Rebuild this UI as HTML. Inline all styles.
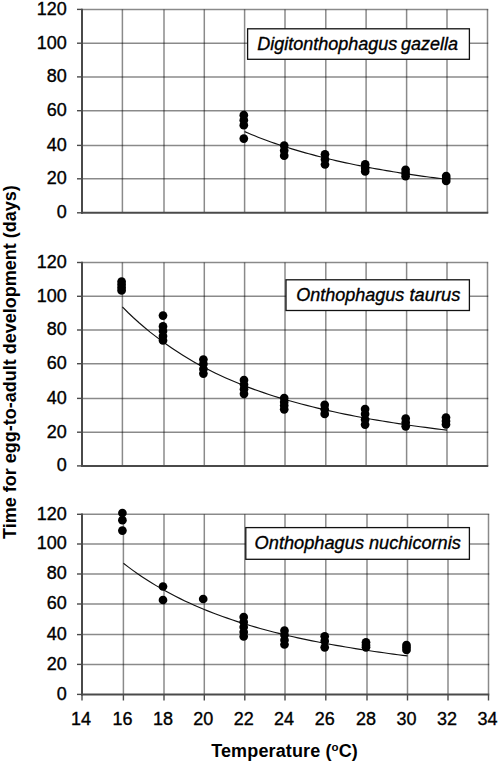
<!DOCTYPE html>
<html><head><meta charset="utf-8"><style>
html,body{margin:0;padding:0;background:#fff;}
svg{display:block;}
.t{font-family:"Liberation Sans",sans-serif;font-size:18px;fill:#000;stroke:#000;stroke-width:0.35px;}
.it{font-family:"Liberation Sans",sans-serif;font-size:18px;font-style:italic;fill:#000;stroke:#000;stroke-width:0.35px;}
.b{font-family:"Liberation Sans",sans-serif;font-size:18px;font-weight:bold;fill:#000;}
</style></head><body>
<svg width="500" height="764" viewBox="0 0 500 764">
<rect width="500" height="764" fill="#fff"/>
<line x1="122.40" y1="9.40" x2="122.40" y2="212.80" stroke="#000" stroke-width="1.5" stroke-opacity="0.46"/>
<line x1="164.00" y1="9.40" x2="164.00" y2="212.80" stroke="#000" stroke-width="1.5" stroke-opacity="0.46"/>
<line x1="204.30" y1="9.40" x2="204.30" y2="212.80" stroke="#000" stroke-width="1.5" stroke-opacity="0.46"/>
<line x1="244.60" y1="9.40" x2="244.60" y2="212.80" stroke="#000" stroke-width="1.5" stroke-opacity="0.46"/>
<line x1="285.00" y1="9.40" x2="285.00" y2="212.80" stroke="#000" stroke-width="1.5" stroke-opacity="0.46"/>
<line x1="325.80" y1="9.40" x2="325.80" y2="212.80" stroke="#000" stroke-width="1.5" stroke-opacity="0.46"/>
<line x1="366.10" y1="9.40" x2="366.10" y2="212.80" stroke="#000" stroke-width="1.5" stroke-opacity="0.46"/>
<line x1="406.60" y1="9.40" x2="406.60" y2="212.80" stroke="#000" stroke-width="1.5" stroke-opacity="0.46"/>
<line x1="447.00" y1="9.40" x2="447.00" y2="212.80" stroke="#000" stroke-width="1.5" stroke-opacity="0.46"/>
<line x1="487.50" y1="9.40" x2="487.50" y2="212.80" stroke="#000" stroke-width="1.5" stroke-opacity="0.46"/>
<line x1="82.00" y1="9.40" x2="488.25" y2="9.40" stroke="#000" stroke-width="1.5" stroke-opacity="0.46"/>
<line x1="82.00" y1="43.20" x2="488.25" y2="43.20" stroke="#000" stroke-width="1.5" stroke-opacity="0.46"/>
<line x1="82.00" y1="76.90" x2="488.25" y2="76.90" stroke="#000" stroke-width="1.5" stroke-opacity="0.46"/>
<line x1="82.00" y1="110.70" x2="488.25" y2="110.70" stroke="#000" stroke-width="1.5" stroke-opacity="0.46"/>
<line x1="82.00" y1="145.40" x2="488.25" y2="145.40" stroke="#000" stroke-width="1.5" stroke-opacity="0.46"/>
<line x1="82.00" y1="178.80" x2="488.25" y2="178.80" stroke="#000" stroke-width="1.5" stroke-opacity="0.46"/>
<line x1="77.00" y1="9.40" x2="82.00" y2="9.40" stroke="#4a4a4a" stroke-width="1.4"/>
<line x1="77.00" y1="43.20" x2="82.00" y2="43.20" stroke="#4a4a4a" stroke-width="1.4"/>
<line x1="77.00" y1="76.90" x2="82.00" y2="76.90" stroke="#4a4a4a" stroke-width="1.4"/>
<line x1="77.00" y1="110.70" x2="82.00" y2="110.70" stroke="#4a4a4a" stroke-width="1.4"/>
<line x1="77.00" y1="145.40" x2="82.00" y2="145.40" stroke="#4a4a4a" stroke-width="1.4"/>
<line x1="77.00" y1="178.80" x2="82.00" y2="178.80" stroke="#4a4a4a" stroke-width="1.4"/>
<line x1="77.00" y1="212.80" x2="82.00" y2="212.80" stroke="#4a4a4a" stroke-width="1.4"/>
<line x1="82.00" y1="8.70" x2="82.00" y2="213.80" stroke="#4a4a4a" stroke-width="2"/>
<line x1="81.00" y1="212.80" x2="488.25" y2="212.80" stroke="#4a4a4a" stroke-width="2"/>
<text x="66.8" y="14.80" text-anchor="end" class="t">120</text>
<text x="66.8" y="48.60" text-anchor="end" class="t">100</text>
<text x="66.8" y="82.30" text-anchor="end" class="t">80</text>
<text x="66.8" y="116.10" text-anchor="end" class="t">60</text>
<text x="66.8" y="150.80" text-anchor="end" class="t">40</text>
<text x="66.8" y="184.20" text-anchor="end" class="t">20</text>
<text x="66.8" y="218.20" text-anchor="end" class="t">0</text>
<line x1="122.40" y1="262.50" x2="122.40" y2="465.90" stroke="#000" stroke-width="1.5" stroke-opacity="0.46"/>
<line x1="164.00" y1="262.50" x2="164.00" y2="465.90" stroke="#000" stroke-width="1.5" stroke-opacity="0.46"/>
<line x1="204.30" y1="262.50" x2="204.30" y2="465.90" stroke="#000" stroke-width="1.5" stroke-opacity="0.46"/>
<line x1="244.60" y1="262.50" x2="244.60" y2="465.90" stroke="#000" stroke-width="1.5" stroke-opacity="0.46"/>
<line x1="285.00" y1="262.50" x2="285.00" y2="465.90" stroke="#000" stroke-width="1.5" stroke-opacity="0.46"/>
<line x1="325.80" y1="262.50" x2="325.80" y2="465.90" stroke="#000" stroke-width="1.5" stroke-opacity="0.46"/>
<line x1="366.10" y1="262.50" x2="366.10" y2="465.90" stroke="#000" stroke-width="1.5" stroke-opacity="0.46"/>
<line x1="406.60" y1="262.50" x2="406.60" y2="465.90" stroke="#000" stroke-width="1.5" stroke-opacity="0.46"/>
<line x1="447.00" y1="262.50" x2="447.00" y2="465.90" stroke="#000" stroke-width="1.5" stroke-opacity="0.46"/>
<line x1="487.50" y1="262.50" x2="487.50" y2="465.90" stroke="#000" stroke-width="1.5" stroke-opacity="0.46"/>
<line x1="82.00" y1="262.50" x2="488.25" y2="262.50" stroke="#000" stroke-width="1.5" stroke-opacity="0.46"/>
<line x1="82.00" y1="296.30" x2="488.25" y2="296.30" stroke="#000" stroke-width="1.5" stroke-opacity="0.46"/>
<line x1="82.00" y1="330.00" x2="488.25" y2="330.00" stroke="#000" stroke-width="1.5" stroke-opacity="0.46"/>
<line x1="82.00" y1="363.70" x2="488.25" y2="363.70" stroke="#000" stroke-width="1.5" stroke-opacity="0.46"/>
<line x1="82.00" y1="398.40" x2="488.25" y2="398.40" stroke="#000" stroke-width="1.5" stroke-opacity="0.46"/>
<line x1="82.00" y1="432.20" x2="488.25" y2="432.20" stroke="#000" stroke-width="1.5" stroke-opacity="0.46"/>
<line x1="77.00" y1="262.50" x2="82.00" y2="262.50" stroke="#4a4a4a" stroke-width="1.4"/>
<line x1="77.00" y1="296.30" x2="82.00" y2="296.30" stroke="#4a4a4a" stroke-width="1.4"/>
<line x1="77.00" y1="330.00" x2="82.00" y2="330.00" stroke="#4a4a4a" stroke-width="1.4"/>
<line x1="77.00" y1="363.70" x2="82.00" y2="363.70" stroke="#4a4a4a" stroke-width="1.4"/>
<line x1="77.00" y1="398.40" x2="82.00" y2="398.40" stroke="#4a4a4a" stroke-width="1.4"/>
<line x1="77.00" y1="432.20" x2="82.00" y2="432.20" stroke="#4a4a4a" stroke-width="1.4"/>
<line x1="77.00" y1="465.90" x2="82.00" y2="465.90" stroke="#4a4a4a" stroke-width="1.4"/>
<line x1="82.00" y1="261.80" x2="82.00" y2="466.90" stroke="#4a4a4a" stroke-width="2"/>
<line x1="81.00" y1="465.90" x2="488.25" y2="465.90" stroke="#4a4a4a" stroke-width="2"/>
<text x="66.8" y="267.90" text-anchor="end" class="t">120</text>
<text x="66.8" y="301.70" text-anchor="end" class="t">100</text>
<text x="66.8" y="335.40" text-anchor="end" class="t">80</text>
<text x="66.8" y="369.10" text-anchor="end" class="t">60</text>
<text x="66.8" y="403.80" text-anchor="end" class="t">40</text>
<text x="66.8" y="437.60" text-anchor="end" class="t">20</text>
<text x="66.8" y="471.30" text-anchor="end" class="t">0</text>
<line x1="123.40" y1="514.30" x2="123.40" y2="694.40" stroke="#000" stroke-width="1.5" stroke-opacity="0.46"/>
<line x1="164.00" y1="514.30" x2="164.00" y2="694.40" stroke="#000" stroke-width="1.5" stroke-opacity="0.46"/>
<line x1="204.30" y1="514.30" x2="204.30" y2="694.40" stroke="#000" stroke-width="1.5" stroke-opacity="0.46"/>
<line x1="244.80" y1="514.30" x2="244.80" y2="694.40" stroke="#000" stroke-width="1.5" stroke-opacity="0.46"/>
<line x1="285.00" y1="514.30" x2="285.00" y2="694.40" stroke="#000" stroke-width="1.5" stroke-opacity="0.46"/>
<line x1="325.80" y1="514.30" x2="325.80" y2="694.40" stroke="#000" stroke-width="1.5" stroke-opacity="0.46"/>
<line x1="367.00" y1="514.30" x2="367.00" y2="694.40" stroke="#000" stroke-width="1.5" stroke-opacity="0.46"/>
<line x1="407.50" y1="514.30" x2="407.50" y2="694.40" stroke="#000" stroke-width="1.5" stroke-opacity="0.46"/>
<line x1="448.00" y1="514.30" x2="448.00" y2="694.40" stroke="#000" stroke-width="1.5" stroke-opacity="0.46"/>
<line x1="488.50" y1="514.30" x2="488.50" y2="694.40" stroke="#000" stroke-width="1.5" stroke-opacity="0.46"/>
<line x1="82.00" y1="514.30" x2="489.25" y2="514.30" stroke="#000" stroke-width="1.5" stroke-opacity="0.46"/>
<line x1="82.00" y1="544.00" x2="489.25" y2="544.00" stroke="#000" stroke-width="1.5" stroke-opacity="0.46"/>
<line x1="82.00" y1="574.00" x2="489.25" y2="574.00" stroke="#000" stroke-width="1.5" stroke-opacity="0.46"/>
<line x1="82.00" y1="604.00" x2="489.25" y2="604.00" stroke="#000" stroke-width="1.5" stroke-opacity="0.46"/>
<line x1="82.00" y1="634.60" x2="489.25" y2="634.60" stroke="#000" stroke-width="1.5" stroke-opacity="0.46"/>
<line x1="82.00" y1="664.40" x2="489.25" y2="664.40" stroke="#000" stroke-width="1.5" stroke-opacity="0.46"/>
<line x1="77.00" y1="514.30" x2="82.00" y2="514.30" stroke="#4a4a4a" stroke-width="1.4"/>
<line x1="77.00" y1="544.00" x2="82.00" y2="544.00" stroke="#4a4a4a" stroke-width="1.4"/>
<line x1="77.00" y1="574.00" x2="82.00" y2="574.00" stroke="#4a4a4a" stroke-width="1.4"/>
<line x1="77.00" y1="604.00" x2="82.00" y2="604.00" stroke="#4a4a4a" stroke-width="1.4"/>
<line x1="77.00" y1="634.60" x2="82.00" y2="634.60" stroke="#4a4a4a" stroke-width="1.4"/>
<line x1="77.00" y1="664.40" x2="82.00" y2="664.40" stroke="#4a4a4a" stroke-width="1.4"/>
<line x1="77.00" y1="694.40" x2="82.00" y2="694.40" stroke="#4a4a4a" stroke-width="1.4"/>
<line x1="82.00" y1="513.60" x2="82.00" y2="695.40" stroke="#4a4a4a" stroke-width="2"/>
<line x1="81.00" y1="694.40" x2="489.25" y2="694.40" stroke="#4a4a4a" stroke-width="2"/>
<line x1="82.00" y1="694.40" x2="82.00" y2="700.50" stroke="#4a4a4a" stroke-width="1.4"/>
<line x1="123.40" y1="694.40" x2="123.40" y2="700.50" stroke="#4a4a4a" stroke-width="1.4"/>
<line x1="164.00" y1="694.40" x2="164.00" y2="700.50" stroke="#4a4a4a" stroke-width="1.4"/>
<line x1="204.30" y1="694.40" x2="204.30" y2="700.50" stroke="#4a4a4a" stroke-width="1.4"/>
<line x1="244.80" y1="694.40" x2="244.80" y2="700.50" stroke="#4a4a4a" stroke-width="1.4"/>
<line x1="285.00" y1="694.40" x2="285.00" y2="700.50" stroke="#4a4a4a" stroke-width="1.4"/>
<line x1="325.80" y1="694.40" x2="325.80" y2="700.50" stroke="#4a4a4a" stroke-width="1.4"/>
<line x1="367.00" y1="694.40" x2="367.00" y2="700.50" stroke="#4a4a4a" stroke-width="1.4"/>
<line x1="407.50" y1="694.40" x2="407.50" y2="700.50" stroke="#4a4a4a" stroke-width="1.4"/>
<line x1="448.00" y1="694.40" x2="448.00" y2="700.50" stroke="#4a4a4a" stroke-width="1.4"/>
<line x1="488.50" y1="694.40" x2="488.50" y2="700.50" stroke="#4a4a4a" stroke-width="1.4"/>
<text x="66.8" y="519.70" text-anchor="end" class="t">120</text>
<text x="66.8" y="549.40" text-anchor="end" class="t">100</text>
<text x="66.8" y="579.40" text-anchor="end" class="t">80</text>
<text x="66.8" y="609.40" text-anchor="end" class="t">60</text>
<text x="66.8" y="640.00" text-anchor="end" class="t">40</text>
<text x="66.8" y="669.80" text-anchor="end" class="t">20</text>
<text x="66.8" y="699.80" text-anchor="end" class="t">0</text>
<text x="81.00" y="725.3" text-anchor="middle" class="t">14</text>
<text x="122.40" y="725.3" text-anchor="middle" class="t">16</text>
<text x="163.00" y="725.3" text-anchor="middle" class="t">18</text>
<text x="203.30" y="725.3" text-anchor="middle" class="t">20</text>
<text x="243.80" y="725.3" text-anchor="middle" class="t">22</text>
<text x="284.00" y="725.3" text-anchor="middle" class="t">24</text>
<text x="324.80" y="725.3" text-anchor="middle" class="t">26</text>
<text x="366.00" y="725.3" text-anchor="middle" class="t">28</text>
<text x="406.50" y="725.3" text-anchor="middle" class="t">30</text>
<text x="447.00" y="725.3" text-anchor="middle" class="t">32</text>
<text x="487.50" y="725.3" text-anchor="middle" class="t">34</text>
<polyline points="244.60,131.61 247.97,133.05 251.33,134.45 254.70,135.82 258.07,137.16 261.43,138.46 264.80,139.73 268.17,140.97 271.53,142.18 274.90,143.36 278.27,144.51 281.63,145.64 285.00,146.74 288.40,147.81 291.80,148.86 295.20,149.89 298.60,150.89 302.00,151.87 305.40,152.83 308.80,153.77 312.20,154.68 315.60,155.58 319.00,156.46 322.40,157.31 325.80,158.15 329.16,158.98 332.52,159.78 335.88,160.57 339.23,161.34 342.59,162.09 345.95,162.83 349.31,163.55 352.67,164.26 356.03,164.96 359.38,165.64 362.74,166.30 366.10,166.96 369.48,167.60 372.85,168.22 376.23,168.84 379.60,169.44 382.98,170.03 386.35,170.61 389.73,171.18 393.10,171.74 396.48,172.29 399.85,172.83 403.23,173.35 406.60,173.87 409.97,174.38 413.33,174.88 416.70,175.37 420.07,175.85 423.43,176.32 426.80,176.78 430.17,177.24 433.53,177.68 436.90,178.12 440.27,178.55 443.63,178.98 447.00,179.39" fill="none" stroke="#111" stroke-width="1.15" stroke-linejoin="round"/>
<polyline points="122.40,306.91 127.95,312.47 133.49,317.75 139.04,322.76 144.59,327.53 150.13,332.08 155.68,336.40 161.23,340.53 166.69,344.47 172.06,348.22 177.43,351.81 182.81,355.24 188.18,358.53 193.55,361.67 198.93,364.68 204.30,367.56 209.67,370.33 215.05,372.98 220.42,375.52 225.79,377.97 231.17,380.32 236.54,382.58 241.91,384.75 247.29,386.84 252.68,388.85 258.07,390.79 263.45,392.66 268.84,394.46 274.23,396.20 279.61,397.87 285.00,399.49 290.44,401.05 295.88,402.56 301.32,404.01 306.76,405.42 312.20,406.79 317.64,408.10 323.08,409.38 328.49,410.61 333.86,411.81 339.23,412.97 344.61,414.09 349.98,415.18 355.35,416.23 360.73,417.25 366.10,418.24 371.50,419.21 376.90,420.14 382.30,421.05 387.70,421.93 393.10,422.79 398.50,423.62 403.90,424.43 409.29,425.21 414.68,425.98 420.07,426.72 425.45,427.44 430.84,428.15 436.23,428.83 441.61,429.50 447.00,430.15" fill="none" stroke="#111" stroke-width="1.15" stroke-linejoin="round"/>
<polyline points="123.40,563.23 128.14,566.88 132.87,570.38 137.61,573.74 142.35,576.96 147.08,580.05 151.82,583.02 156.56,585.88 161.29,588.62 166.02,591.27 170.72,593.81 175.42,596.26 180.12,598.62 184.82,600.90 189.52,603.09 194.23,605.21 198.93,607.26 203.63,609.23 208.35,611.14 213.08,612.98 217.80,614.77 222.52,616.49 227.25,618.16 231.98,619.77 236.70,621.34 241.42,622.85 246.14,624.32 250.83,625.74 255.52,627.12 260.21,628.46 264.90,629.76 269.59,631.02 274.28,632.24 278.97,633.43 283.66,634.58 288.40,635.70 293.16,636.79 297.92,637.85 302.68,638.88 307.44,639.89 312.20,640.86 316.96,641.81 321.72,642.73 326.49,643.63 331.29,644.51 336.10,645.36 340.91,646.19 345.71,647.00 350.52,647.79 355.33,648.56 360.13,649.31 364.94,650.04 369.70,650.76 374.43,651.46 379.15,652.14 383.88,652.80 388.60,653.45 393.32,654.08 398.05,654.70 402.77,655.31 407.50,655.90" fill="none" stroke="#111" stroke-width="1.15" stroke-linejoin="round"/>
<circle cx="243.8" cy="115.2" r="4.35"/>
<circle cx="243.8" cy="120.2" r="4.35"/>
<circle cx="243.8" cy="125.2" r="4.35"/>
<circle cx="243.8" cy="138.6" r="4.35"/>
<circle cx="284.2" cy="145.5" r="4.35"/>
<circle cx="284.2" cy="150.6" r="4.35"/>
<circle cx="284.2" cy="155.7" r="4.35"/>
<circle cx="325.0" cy="154.3" r="4.35"/>
<circle cx="325.0" cy="159.4" r="4.35"/>
<circle cx="325.0" cy="164.5" r="4.35"/>
<circle cx="365.2" cy="164.4" r="4.35"/>
<circle cx="365.2" cy="168" r="4.35"/>
<circle cx="365.2" cy="171.4" r="4.35"/>
<circle cx="405.6" cy="169.8" r="4.35"/>
<circle cx="405.6" cy="173" r="4.35"/>
<circle cx="405.6" cy="176.2" r="4.35"/>
<circle cx="446.2" cy="176" r="4.35"/>
<circle cx="446.2" cy="178.5" r="4.35"/>
<circle cx="446.2" cy="181" r="4.35"/>
<circle cx="121.6" cy="281.6" r="4.35"/>
<circle cx="121.6" cy="284.5" r="4.35"/>
<circle cx="121.6" cy="287.5" r="4.35"/>
<circle cx="121.6" cy="290.4" r="4.35"/>
<circle cx="163.0" cy="315.6" r="4.35"/>
<circle cx="163.0" cy="326.4" r="4.35"/>
<circle cx="163.0" cy="331" r="4.35"/>
<circle cx="163.0" cy="336" r="4.35"/>
<circle cx="163.0" cy="340.4" r="4.35"/>
<circle cx="203.4" cy="359.6" r="4.35"/>
<circle cx="203.4" cy="364" r="4.35"/>
<circle cx="203.4" cy="369" r="4.35"/>
<circle cx="203.4" cy="373.6" r="4.35"/>
<circle cx="244.0" cy="380" r="4.35"/>
<circle cx="244.0" cy="384.6" r="4.35"/>
<circle cx="244.0" cy="389.2" r="4.35"/>
<circle cx="244.0" cy="393.8" r="4.35"/>
<circle cx="284.2" cy="398.1" r="4.35"/>
<circle cx="284.2" cy="402" r="4.35"/>
<circle cx="284.2" cy="405.6" r="4.35"/>
<circle cx="284.2" cy="409.3" r="4.35"/>
<circle cx="324.7" cy="404.8" r="4.35"/>
<circle cx="324.7" cy="409.3" r="4.35"/>
<circle cx="324.7" cy="413.9" r="4.35"/>
<circle cx="365.1" cy="409.1" r="4.35"/>
<circle cx="365.1" cy="414" r="4.35"/>
<circle cx="365.1" cy="419.5" r="4.35"/>
<circle cx="365.1" cy="424.6" r="4.35"/>
<circle cx="405.7" cy="418.6" r="4.35"/>
<circle cx="405.7" cy="422.5" r="4.35"/>
<circle cx="405.7" cy="426.3" r="4.35"/>
<circle cx="446.0" cy="417.5" r="4.35"/>
<circle cx="446.0" cy="421" r="4.35"/>
<circle cx="446.0" cy="424.5" r="4.35"/>
<circle cx="122.4" cy="513" r="4.35"/>
<circle cx="122.4" cy="520.2" r="4.35"/>
<circle cx="122.4" cy="530.6" r="4.35"/>
<circle cx="163.0" cy="586.5" r="4.35"/>
<circle cx="163.0" cy="600" r="4.35"/>
<circle cx="203.2" cy="599" r="4.35"/>
<circle cx="243.7" cy="617.1" r="4.35"/>
<circle cx="243.7" cy="622" r="4.35"/>
<circle cx="243.7" cy="627" r="4.35"/>
<circle cx="243.7" cy="632" r="4.35"/>
<circle cx="243.7" cy="636.5" r="4.35"/>
<circle cx="284.5" cy="630.7" r="4.35"/>
<circle cx="284.5" cy="635" r="4.35"/>
<circle cx="284.5" cy="640" r="4.35"/>
<circle cx="284.5" cy="644.5" r="4.35"/>
<circle cx="324.7" cy="636.3" r="4.35"/>
<circle cx="324.7" cy="641" r="4.35"/>
<circle cx="324.7" cy="647.3" r="4.35"/>
<circle cx="366.0" cy="642.3" r="4.35"/>
<circle cx="366.0" cy="645" r="4.35"/>
<circle cx="366.0" cy="647.3" r="4.35"/>
<circle cx="406.5" cy="645" r="4.35"/>
<circle cx="406.5" cy="647.5" r="4.35"/>
<circle cx="406.5" cy="650" r="4.35"/>
<rect x="247.6" y="28.8" width="221.8" height="30.5" fill="#fff" stroke="#111" stroke-width="1.3"/>
<text x="257.2" y="49.8" class="it">Digitonthophagus</text>
<text x="401" y="49.8" class="it">gazella</text>
<rect x="286" y="279.8" width="183.4" height="30.7" fill="#fff" stroke="#111" stroke-width="1.3"/>
<text x="296.2" y="301.2" class="it">Onthophagus</text>
<text x="409.5" y="301.2" class="it" textLength="50.8" lengthAdjust="spacingAndGlyphs">taurus</text>
<rect x="245.8" y="527.6" width="223.6" height="31.7" fill="#fff" stroke="#111" stroke-width="1.3"/>
<text x="254.6" y="548.6" class="it" textLength="109.4" lengthAdjust="spacingAndGlyphs">Onthophagus</text>
<text x="369" y="548.6" class="it" textLength="91.8" lengthAdjust="spacingAndGlyphs">nuchicornis</text>
<text x="211.2" y="757.3" class="b" textLength="146.6" lengthAdjust="spacing">Temperature (<tspan font-size="11.5" dy="-6.5">o</tspan><tspan dy="6.5">C)</tspan></text>
<text transform="translate(16.3,539) rotate(-90)" x="0" y="0" class="b">Time for egg-to-adult development (days)</text>
</svg>
</body></html>
